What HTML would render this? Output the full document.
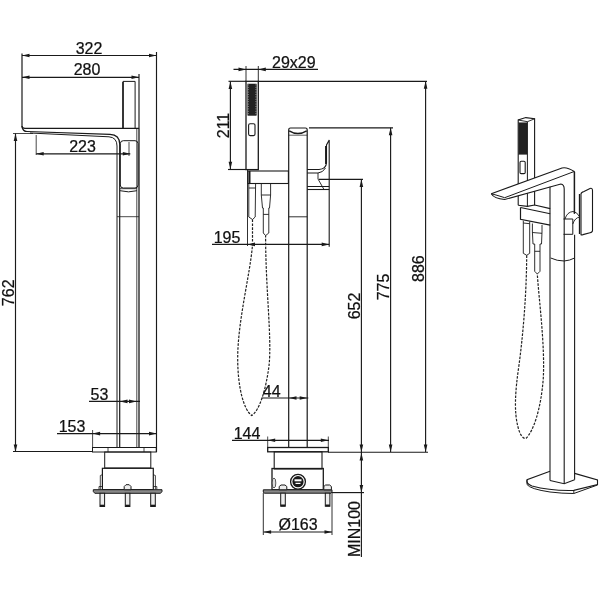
<!DOCTYPE html>
<html><head><meta charset="utf-8"><style>
html,body{margin:0;padding:0;background:#fff;width:600px;height:600px;overflow:hidden}
svg{display:block;filter:grayscale(1)}
text{font-family:"Liberation Sans",sans-serif;fill:#111;stroke:#111;stroke-width:0.25px}
</style></head><body>
<svg width="600" height="600" viewBox="0 0 600 600">
<line x1="22" y1="53.4" x2="22" y2="127" stroke="#1a1a1a" stroke-width="1.2"/>
<line x1="22" y1="55.5" x2="156.5" y2="55.5" stroke="#1a1a1a" stroke-width="1.15"/>
<polygon points="22.0,55.5 29.5,53.7 29.5,57.3" fill="#1a1a1a"/>
<polygon points="156.5,55.5 149.0,53.7 149.0,57.3" fill="#1a1a1a"/>
<text x="0" y="0" transform="translate(89,53.8) scale(0.97,1)" text-anchor="middle" font-size="16.5">322</text>
<line x1="22" y1="77.3" x2="139" y2="77.3" stroke="#1a1a1a" stroke-width="1.15"/>
<polygon points="22.0,77.3 29.5,75.5 29.5,79.1" fill="#1a1a1a"/>
<polygon points="139.0,77.3 131.5,75.5 131.5,79.1" fill="#1a1a1a"/>
<text x="0" y="0" transform="translate(87,75.3) scale(0.97,1)" text-anchor="middle" font-size="16.5">280</text>
<line x1="156.5" y1="52" x2="156.5" y2="452" stroke="#1a1a1a" stroke-width="1.15"/>
<line x1="139" y1="74" x2="139" y2="128" stroke="#1a1a1a" stroke-width="1.15"/>
<path d="M22,126 Q22,128.3 25,128.3 L139,128.3" fill="none" stroke="#1a1a1a" stroke-width="1.2"/>
<path d="M22,127 Q23,131.5 27,131.5 L110,134.4 Q119.7,135 119.7,144 L119.7,447.5" fill="none" stroke="#1a1a1a" stroke-width="1.2"/>
<path d="M30,133 L109,136.8 Q117,137.5 117,146 L117,447.5" fill="none" stroke="#1a1a1a" stroke-width="1.0"/>
<path d="M123,128.3 L123,81.4 L135.1,81.4 L135.1,128.3" fill="none" stroke="#1a1a1a" stroke-width="1.0"/>
<line x1="123" y1="82" x2="123" y2="128" stroke="#1a1a1a" stroke-width="1.5"/>
<line x1="136.8" y1="128.3" x2="136.8" y2="447.5" stroke="#1a1a1a" stroke-width="0.8"/>
<line x1="139" y1="128" x2="139" y2="447.5" stroke="#1a1a1a" stroke-width="1.3"/>
<rect x="120.3" y="140.7" width="17.7" height="47.3" rx="3" fill="none" stroke="#1a1a1a" stroke-width="1.0"/>
<line x1="120" y1="188.7" x2="137" y2="188.7" stroke="#1a1a1a" stroke-width="0.8"/>
<path d="M120,190.7 Q128.5,193 137,190.7" fill="none" stroke="#1a1a1a" stroke-width="1.0"/>
<line x1="117" y1="216.7" x2="139" y2="216.7" stroke="#1a1a1a" stroke-width="0.8"/>
<line x1="13" y1="133.5" x2="33" y2="133.5" stroke="#1a1a1a" stroke-width="0.8"/>
<line x1="36.2" y1="135" x2="36.2" y2="155" stroke="#1a1a1a" stroke-width="0.8"/>
<line x1="36.2" y1="153.8" x2="130.3" y2="153.8" stroke="#1a1a1a" stroke-width="1.15"/>
<polygon points="36.2,153.8 43.7,152.0 43.7,155.6" fill="#1a1a1a"/>
<polygon points="130.3,153.8 122.8,152.0 122.8,155.6" fill="#1a1a1a"/>
<line x1="129" y1="142" x2="129" y2="156" stroke="#1a1a1a" stroke-width="0.8"/>
<text x="0" y="0" transform="translate(82.5,151.8) scale(0.97,1)" text-anchor="middle" font-size="16.5">223</text>
<line x1="15.5" y1="133.5" x2="15.5" y2="452" stroke="#1a1a1a" stroke-width="1.15"/>
<polygon points="15.5,133.5 13.7,141.0 17.3,141.0" fill="#1a1a1a"/>
<polygon points="15.5,452.0 13.7,444.5 17.3,444.5" fill="#1a1a1a"/>
<text x="0" y="0" transform="translate(13.5,292.8) rotate(-90) scale(0.97,1)" text-anchor="middle" font-size="16.5">762</text>
<line x1="13" y1="451.5" x2="92.5" y2="451.5" stroke="#1a1a1a" stroke-width="1.15"/>
<line x1="89" y1="401.4" x2="140" y2="401.4" stroke="#1a1a1a" stroke-width="1.15"/>
<polygon points="120.0,401.4 127.5,399.6 127.5,403.2" fill="#1a1a1a"/>
<polygon points="136.5,401.4 129.0,399.6 129.0,403.2" fill="#1a1a1a"/>
<text x="0" y="0" transform="translate(99.5,399.8) scale(0.97,1)" text-anchor="middle" font-size="16.5">53</text>
<line x1="57" y1="433.6" x2="157" y2="433.6" stroke="#1a1a1a" stroke-width="1.15"/>
<polygon points="92.6,433.6 100.1,431.8 100.1,435.4" fill="#1a1a1a"/>
<polygon points="156.5,433.6 149.0,431.8 149.0,435.4" fill="#1a1a1a"/>
<line x1="92.6" y1="430" x2="92.6" y2="448" stroke="#1a1a1a" stroke-width="0.8"/>
<text x="0" y="0" transform="translate(72,431.8) scale(0.97,1)" text-anchor="middle" font-size="16.5">153</text>
<rect x="92.5" y="447.5" width="63.8" height="4.5" rx="0" fill="none" stroke="#1a1a1a" stroke-width="1.0"/>
<line x1="108" y1="447.5" x2="108" y2="452" stroke="#1a1a1a" stroke-width="0.8"/>
<line x1="144" y1="447.5" x2="144" y2="452" stroke="#1a1a1a" stroke-width="0.8"/>
<rect x="104.7" y="452" width="46.1" height="16" rx="0" fill="none" stroke="#1a1a1a" stroke-width="1.0"/>
<rect x="102.4" y="468.3" width="50.9" height="21.3" rx="0" fill="none" stroke="#1a1a1a" stroke-width="1.2"/>
<path d="M102.4,474.7 L100.3,475.5 L100.3,489.6" fill="none" stroke="#1a1a1a" stroke-width="0.8"/>
<path d="M153.3,474.7 L155.4,475.5 L155.4,489.6" fill="none" stroke="#1a1a1a" stroke-width="0.8"/>
<path d="M99,489.6 L99,486.5 L102.4,486.5 M156.8,489.6 L156.8,486.5 L153.3,486.5" fill="none" stroke="#1a1a1a" stroke-width="0.8"/>
<path d="M93.3,489.7 L162,489.7 L162,491.5 L160.5,493.3 L94.8,493.3 L93.3,491.5 Z" fill="#888" stroke="#1a1a1a" stroke-width="1.0"/>
<rect x="100.0" y="493.3" width="4.6" height="13.2" rx="0" fill="#eee" stroke="#1a1a1a" stroke-width="1.0"/>
<rect x="100.0" y="504.7" width="4.6" height="2" rx="0" fill="#1a1a1a" stroke="#1a1a1a" stroke-width="0"/>
<rect x="125.3" y="493.3" width="4.6" height="13.2" rx="0" fill="#eee" stroke="#1a1a1a" stroke-width="1.0"/>
<rect x="125.3" y="504.7" width="4.6" height="2" rx="0" fill="#1a1a1a" stroke="#1a1a1a" stroke-width="0"/>
<rect x="150.7" y="493.3" width="4.6" height="13.2" rx="0" fill="#eee" stroke="#1a1a1a" stroke-width="1.0"/>
<rect x="150.7" y="504.7" width="4.6" height="2" rx="0" fill="#1a1a1a" stroke="#1a1a1a" stroke-width="0"/>
<path d="M124.2,489.7 L124.2,486.5 L126,484.7 L129.2,484.7 L131,486.5 L131,489.7 Z" fill="#eee" stroke="#1a1a1a" stroke-width="1.0"/>
<line x1="233.5" y1="69.4" x2="318" y2="69.4" stroke="#1a1a1a" stroke-width="1.15"/>
<polygon points="246.0,69.4 238.5,67.6 238.5,71.2" fill="#1a1a1a"/>
<polygon points="258.3,69.4 265.8,67.6 265.8,71.2" fill="#1a1a1a"/>
<line x1="246" y1="66" x2="246" y2="81.5" stroke="#1a1a1a" stroke-width="0.9"/>
<line x1="258.3" y1="66" x2="258.3" y2="81.5" stroke="#1a1a1a" stroke-width="0.9"/>
<text x="0" y="0" transform="translate(293.8,67.8) scale(0.97,1)" text-anchor="middle" font-size="16.5">29x29</text>
<rect x="246" y="81.3" width="12.3" height="88.3" rx="0" fill="none" stroke="#1a1a1a" stroke-width="1.3"/>
<rect x="247.8" y="84" width="8.6" height="31.4" rx="0" fill="#222" stroke="#1a1a1a" stroke-width="0.5"/>
<line x1="248.3" y1="84.5" x2="248.3" y2="115" stroke="#fff" stroke-width="0.6" stroke-dasharray="0.8,1.6"/>
<line x1="255.9" y1="84.5" x2="255.9" y2="115" stroke="#fff" stroke-width="0.6" stroke-dasharray="0.8,1.6"/>
<rect x="248.6" y="123.8" width="6.4" height="11.8" rx="1.5" fill="none" stroke="#1a1a1a" stroke-width="1.1"/>
<line x1="228.5" y1="81.3" x2="246" y2="81.3" stroke="#1a1a1a" stroke-width="1.15"/>
<line x1="258.3" y1="81.3" x2="427" y2="81.3" stroke="#1a1a1a" stroke-width="1.15"/>
<line x1="230.4" y1="81.5" x2="230.4" y2="169.3" stroke="#1a1a1a" stroke-width="1.15"/>
<polygon points="230.4,81.5 228.6,89.0 232.2,89.0" fill="#1a1a1a"/>
<polygon points="230.4,169.3 228.6,161.8 232.2,161.8" fill="#1a1a1a"/>
<text x="0" y="0" transform="translate(229,125.5) rotate(-90) scale(0.97,1)" text-anchor="middle" font-size="16.5">211</text>
<line x1="228" y1="169.5" x2="246" y2="169.5" stroke="#1a1a1a" stroke-width="1.15"/>
<rect x="248" y="171" width="40.4" height="12.5" rx="0" fill="none" stroke="#1a1a1a" stroke-width="1.1"/>
<line x1="249.6" y1="171" x2="249.6" y2="183.5" stroke="#1a1a1a" stroke-width="1.8"/>
<line x1="247.5" y1="169.5" x2="247.5" y2="246" stroke="#1a1a1a" stroke-width="0.9"/>
<path d="M248.8,183.5 L248.8,217 L252.5,219.5 L255.2,217 L255.6,183.5 M248.8,188 L255.6,188" fill="none" stroke="#1a1a1a" stroke-width="0.9"/>
<path d="M261.3,183.5 L261.3,195 L262.5,208 L263.3,208 L263.3,233 L265.6,235.6 L268.8,233 L268.8,208 L269.5,208 L270.6,195 L270.6,183.5 M261.3,195 L270.6,195 M263.3,214.4 L268.8,214.4" fill="none" stroke="#1a1a1a" stroke-width="0.9"/>
<path d="M288.7,447.3 L288.7,129.8 Q288.7,128 290.5,128 L305.4,128 Q307.2,128 307.2,129.8 L307.2,447.3" fill="none" stroke="#1a1a1a" stroke-width="1.2"/>
<path d="M289.2,130.8 Q297.9,136.2 306.7,130.8" fill="none" stroke="#1a1a1a" stroke-width="1.4"/>
<line x1="288.7" y1="135.2" x2="307.2" y2="135.2" stroke="#1a1a1a" stroke-width="0.7"/>
<line x1="288.7" y1="216.8" x2="307.2" y2="216.8" stroke="#1a1a1a" stroke-width="0.9"/>
<line x1="309" y1="127.8" x2="393" y2="127.8" stroke="#1a1a1a" stroke-width="1.15"/>
<path d="M307.2,169.5 L319,169.5 Q326,169 326.5,163 L326.5,145 L329.2,140 L329.2,246.7" fill="none" stroke="#1a1a1a" stroke-width="1.1"/>
<line x1="325.8" y1="146" x2="325.8" y2="164" stroke="#1a1a1a" stroke-width="1.5"/>
<path d="M307.2,173 L318,173 Q323,172.5 325.5,168" fill="none" stroke="#1a1a1a" stroke-width="1.0"/>
<line x1="307.2" y1="186.5" x2="329.2" y2="186.5" stroke="#1a1a1a" stroke-width="1.0"/>
<line x1="307.2" y1="189.5" x2="329.2" y2="189.5" stroke="#1a1a1a" stroke-width="1.1"/>
<path d="M318,173 L318,179 L324,189.5" fill="none" stroke="#1a1a1a" stroke-width="0.9"/>
<line x1="319" y1="179.4" x2="363" y2="179.4" stroke="#1a1a1a" stroke-width="1.15"/>
<line x1="212" y1="244.4" x2="329.2" y2="244.4" stroke="#1a1a1a" stroke-width="1.15"/>
<polygon points="247.5,244.4 255.0,242.6 255.0,246.2" fill="#1a1a1a"/>
<polygon points="329.2,244.4 321.7,242.6 321.7,246.2" fill="#1a1a1a"/>
<text x="0" y="0" transform="translate(227,242.8) scale(0.97,1)" text-anchor="middle" font-size="16.5">195</text>
<path d="M252.5,219.5 L252.5,245 C250,275 238,320 237.7,357 C237.5,388 244,410 251.7,415.5 C259,411 265.5,392 269,366 C272,338 265.6,290 265.6,235.6" fill="none" stroke="#222" stroke-width="1.2" stroke-dasharray="2.6,1.3"/>
<line x1="261.7" y1="398" x2="308.3" y2="398" stroke="#1a1a1a" stroke-width="1.15"/>
<polygon points="289.0,398.0 296.5,396.2 296.5,399.8" fill="#1a1a1a"/>
<polygon points="307.2,398.0 299.7,396.2 299.7,399.8" fill="#1a1a1a"/>
<text x="0" y="0" transform="translate(271.7,396.8) scale(0.97,1)" text-anchor="middle" font-size="16.5">44</text>
<line x1="232" y1="440.3" x2="329" y2="440.3" stroke="#1a1a1a" stroke-width="1.15"/>
<polygon points="267.7,440.3 275.2,438.5 275.2,442.1" fill="#1a1a1a"/>
<polygon points="328.3,440.3 320.8,438.5 320.8,442.1" fill="#1a1a1a"/>
<line x1="267.7" y1="436.5" x2="267.7" y2="447.3" stroke="#1a1a1a" stroke-width="0.8"/>
<line x1="328.3" y1="436.5" x2="328.3" y2="447.3" stroke="#1a1a1a" stroke-width="0.8"/>
<text x="0" y="0" transform="translate(247,439.2) scale(0.97,1)" text-anchor="middle" font-size="16.5">144</text>
<rect x="267.7" y="447.5" width="60.6" height="4.3" rx="0" fill="none" stroke="#1a1a1a" stroke-width="1.3"/>
<rect x="274.2" y="451.8" width="47.8" height="17.2" rx="0" fill="none" stroke="#1a1a1a" stroke-width="1.1"/>
<rect x="272" y="468.5" width="51.3" height="21.2" rx="0" fill="none" stroke="#1a1a1a" stroke-width="1.3"/>
<circle cx="298" cy="481.7" r="7.4" fill="none" stroke="#1a1a1a" stroke-width="1.3"/>
<circle cx="298" cy="481.7" r="5.6" fill="#1a1a1a" stroke="none"/>
<rect x="294.5" y="479.3" width="7" height="2" rx="0" fill="#fff" stroke="#1a1a1a" stroke-width="0"/>
<rect x="295.5" y="482.8" width="5" height="1.2" rx="0" fill="#fff" stroke="#1a1a1a" stroke-width="0"/>
<ellipse cx="274" cy="483" rx="1.8" ry="5" fill="#ddd" stroke="#333" stroke-width="0.8"/>
<path d="M263.3,489.8 L332,489.8 L332,492 L331,493.2 L264.3,493.2 L263.3,492 Z" fill="#888" stroke="#1a1a1a" stroke-width="1.0"/>
<rect x="280.7" y="493.2" width="4.6" height="13" rx="0" fill="#eee" stroke="#1a1a1a" stroke-width="1.0"/>
<rect x="280.7" y="504.5" width="4.6" height="2" rx="0" fill="#1a1a1a" stroke="#1a1a1a" stroke-width="0"/>
<path d="M279.2,489.8 L279.2,486.5 L281,485 L285,485 L286.8,486.5 L286.8,489.8 Z" fill="#eee" stroke="#1a1a1a" stroke-width="1.0"/>
<rect x="325.3" y="493.2" width="4.6" height="13" rx="0" fill="#eee" stroke="#1a1a1a" stroke-width="1.0"/>
<rect x="325.3" y="504.5" width="4.6" height="2" rx="0" fill="#1a1a1a" stroke="#1a1a1a" stroke-width="0"/>
<path d="M323.8,489.8 L323.8,486.5 L325.6,485 L329.6,485 L331.40000000000003,486.5 L331.40000000000003,489.8 Z" fill="#eee" stroke="#1a1a1a" stroke-width="1.0"/>
<line x1="263.3" y1="493" x2="263.3" y2="535" stroke="#1a1a1a" stroke-width="0.9"/>
<line x1="332" y1="493" x2="332" y2="535" stroke="#1a1a1a" stroke-width="0.9"/>
<line x1="263.6" y1="532" x2="332" y2="532" stroke="#1a1a1a" stroke-width="1.15"/>
<polygon points="263.6,532.0 271.1,530.2 271.1,533.8" fill="#1a1a1a"/>
<polygon points="332.0,532.0 324.5,530.2 324.5,533.8" fill="#1a1a1a"/>
<text x="0" y="0" transform="translate(298,529.8) scale(0.97,1)" text-anchor="middle" font-size="16.5">Ø163</text>
<line x1="361.4" y1="179.4" x2="361.4" y2="452" stroke="#1a1a1a" stroke-width="1.15"/>
<polygon points="361.4,179.4 359.6,186.9 363.2,186.9" fill="#1a1a1a"/>
<polygon points="361.4,452.0 359.6,444.5 363.2,444.5" fill="#1a1a1a"/>
<line x1="390.6" y1="127.8" x2="390.6" y2="452" stroke="#1a1a1a" stroke-width="1.15"/>
<polygon points="390.6,127.8 388.8,135.3 392.4,135.3" fill="#1a1a1a"/>
<polygon points="390.6,452.0 388.8,444.5 392.4,444.5" fill="#1a1a1a"/>
<line x1="425.6" y1="81.3" x2="425.6" y2="452" stroke="#1a1a1a" stroke-width="1.15"/>
<polygon points="425.6,81.3 423.8,88.8 427.4,88.8" fill="#1a1a1a"/>
<polygon points="425.6,452.0 423.8,444.5 427.4,444.5" fill="#1a1a1a"/>
<text x="0" y="0" transform="translate(359.8,306) rotate(-90) scale(0.97,1)" text-anchor="middle" font-size="16.5">652</text>
<text x="0" y="0" transform="translate(388.8,287) rotate(-90) scale(0.97,1)" text-anchor="middle" font-size="16.5">775</text>
<text x="0" y="0" transform="translate(423.5,268.6) rotate(-90) scale(0.97,1)" text-anchor="middle" font-size="16.5">886</text>
<line x1="328" y1="452.2" x2="428" y2="452.2" stroke="#1a1a1a" stroke-width="1.15"/>
<line x1="361.4" y1="452" x2="361.4" y2="557" stroke="#1a1a1a" stroke-width="1.15"/>
<polygon points="361.4,453.0 359.6,460.5 363.2,460.5" fill="#1a1a1a"/>
<polygon points="361.4,492.6 359.6,485.1 363.2,485.1" fill="#1a1a1a"/>
<line x1="332" y1="492.6" x2="364" y2="492.6" stroke="#1a1a1a" stroke-width="1.15"/>
<text x="0" y="0" transform="translate(359.5,529) rotate(-90) scale(0.97,1)" text-anchor="middle" font-size="16.5">MIN100</text>
<path d="M518.2,205.3 L518.2,120 L525.8,117.6 L534.6,118.8 L534.6,178.5" fill="none" stroke="#1a1a1a" stroke-width="1.1"/>
<path d="M518.2,120 L527.4,121.7 L534.6,118.8" fill="none" stroke="#1a1a1a" stroke-width="0.9"/>
<line x1="527.4" y1="121.7" x2="527.4" y2="206.4" stroke="#1a1a1a" stroke-width="1.0"/>
<rect x="518.8" y="122.8" width="8.2" height="31.5" rx="0" fill="#222" stroke="#1a1a1a" stroke-width="0.4"/>
<rect x="520" y="161.3" width="5.2" height="12.3" rx="1.2" fill="none" stroke="#1a1a1a" stroke-width="1.1"/>
<path d="M491.3,193.7 L562,168 Q567,166.8 574.2,171.5 L574.2,186 L564.2,189 Q564.2,184.5 560.8,184 L504.7,199.5 Q494,198.5 491.3,193.7 Z" fill="#fff" stroke="none" stroke-width="0"/>
<path d="M491.3,193.7 L562,168 Q567,166.8 574.2,171.5 L574.2,213.8" fill="none" stroke="#1a1a1a" stroke-width="1.1"/>
<path d="M491.3,193.7 Q498,195.5 504.7,197.7 L574.2,171.5" fill="none" stroke="#1a1a1a" stroke-width="1.0"/>
<path d="M491.3,193.7 Q494,198.5 504.7,199.5 L560.8,184 Q564.2,184.5 564.2,189 L564.2,483.7" fill="none" stroke="#1a1a1a" stroke-width="1.1"/>
<line x1="550" y1="186.7" x2="550" y2="480.5" stroke="#1a1a1a" stroke-width="1.1"/>
<line x1="574.6" y1="234.8" x2="574.6" y2="479.7" stroke="#1a1a1a" stroke-width="1.1"/>
<path d="M550.7,258 Q557,261 564.2,261 Q570,260.5 574.6,258" fill="none" stroke="#1a1a1a" stroke-width="1.0"/>
<path d="M518.2,205.3 L527.4,206.4 L534.6,205 L550.2,208.6" fill="none" stroke="#1a1a1a" stroke-width="1.1"/>
<line x1="534.6" y1="191" x2="534.6" y2="205" stroke="#1a1a1a" stroke-width="1.1"/>
<path d="M520.5,207.5 L550.2,213.75" fill="none" stroke="#1a1a1a" stroke-width="1.2"/>
<path d="M520.5,207.5 L520.5,219.3 L550.2,225.1" fill="none" stroke="#1a1a1a" stroke-width="1.2"/>
<path d="M523.3,220.7 L523.3,253.3 L526.7,255.3 L529.7,253.3 L529.7,221.5 M523.3,223 L529.7,223.7" fill="none" stroke="#1a1a1a" stroke-width="0.9"/>
<path d="M532.4,223.5 L532.4,232 L533,244 L534.7,244 L534.7,271.3 L537.3,274 L540,271.3 L540,244 L541.5,244 L542,232 L542,225 M532.4,232.5 L542,233.3 M534.7,251.3 L540,251.3" fill="none" stroke="#1a1a1a" stroke-width="0.9"/>
<path d="M526.7,255.3 C526.5,295 523,335 519,365 C515,392 514,412 518,427 C520,435 523,439 526,438.3 C533,432 541,410 543.3,378 C545,345 539,300 537.3,274" fill="none" stroke="#222" stroke-width="1.2" stroke-dasharray="2.6,1.3"/>
<path d="M581,234.8 L581,194 Q581,192.5 584,191.5 L590,188.5 Q592.5,187.7 592.5,190.5 L592.5,230.5 Q592.5,232.3 590,232.8 L583,234.6 Q581,235 581,234.8 Z" fill="none" stroke="#1a1a1a" stroke-width="1.1"/>
<line x1="579.5" y1="194" x2="579.5" y2="234" stroke="#1a1a1a" stroke-width="1.3"/>
<line x1="574.6" y1="171.7" x2="574.6" y2="213.8" stroke="#1a1a1a" stroke-width="1.1"/>
<path d="M563.5,219 L572.8,219 L572.8,234.3 L563.5,234.3" fill="none" stroke="#1a1a1a" stroke-width="1.0"/>
<path d="M565,219 Q567,212 573,211.5 Q577,212 579,216" fill="none" stroke="#1a1a1a" stroke-width="0.9"/>
<path d="M572.8,224 Q575,217.5 580,217" fill="none" stroke="#1a1a1a" stroke-width="0.9"/>
<path d="M550,471.2 L527,479.7 Q526,484 532,486 Q550,491 573.8,490.4 L597.5,484.5 L597.5,480 L574.6,473.4" fill="none" stroke="#1a1a1a" stroke-width="1.1"/>
<path d="M527,480 L527,484.5 Q530,489 550,492 Q562,493.5 573.8,493.5 L597.5,485" fill="none" stroke="#1a1a1a" stroke-width="1.0"/>
<line x1="573.8" y1="490.4" x2="573.8" y2="493.5" stroke="#1a1a1a" stroke-width="0.9"/>
<path d="M550,480.5 L564.2,483.7 L574.6,479.7" fill="none" stroke="#1a1a1a" stroke-width="1.1"/>
</svg>
</body></html>
